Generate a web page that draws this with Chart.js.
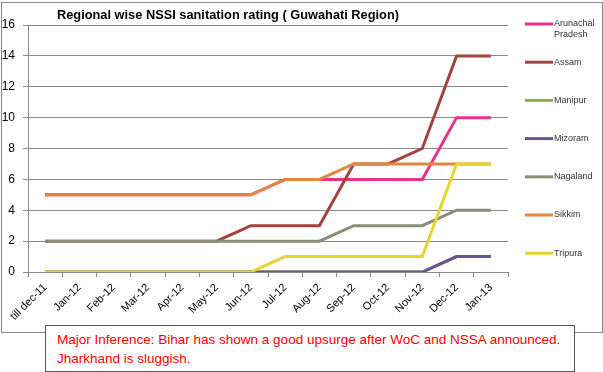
<!DOCTYPE html>
<html>
<head>
<meta charset="utf-8">
<script src="https://cdn.jsdelivr.net/npm/chart.js@4/dist/chart.umd.min.js"></script>
<style>
  body { margin: 0; background: #fff; }
  #wrap { position: relative; width: 603px; height: 372px; }
  #frame { position: absolute; left: 1px; top: 2px; width: 600px; height: 329px; border: 1px solid #8a8a8a; }
  canvas { position: absolute; left: 0; top: 0; }
  #note {
    position: absolute; left: 45px; top: 325px; width: 517px; height: 41px;
    border: 1px solid #555; background: #fff; color: #f00;
    font: 13.5px "Liberation Sans", Arial, sans-serif; line-height: 19px;
    padding: 4px 0 0 11px;
  }
</style>
</head>
<body>
<div id="wrap">
  <div id="frame"></div>
  <canvas id="myChart" width="603" height="372"></canvas>
  <div id="note">Major Inference: Bihar has shown a good upsurge after WoC and NSSA announced.<br>Jharkhand is sluggish.</div>
</div>
<script>
const months = ['till dec-11', 'Jan-12', 'Feb-12', 'Mar-12', 'Apr-12', 'May-12', 'Jun-12',
  'Jul-12', 'Aug-12', 'Sep-12', 'Oct-12', 'Nov-12', 'Dec-12', 'Jan-13'];

const arunachal = [5, 5, 5, 5, 5, 5, 5, 6, 6, 6, 6, 6, 10, 10];
const assam     = [2, 2, 2, 2, 2, 2, 3, 3, 3, 7, 7, 8, 14, 14];
const manipur   = [0, 0, 0, 0, 0, 0, 0, 0, 0, 0, 0, 0, 1, 1];
const mizoram   = [0, 0, 0, 0, 0, 0, 0, 0, 0, 0, 0, 0, 1, 1];
const nagaland  = [2, 2, 2, 2, 2, 2, 2, 2, 2, 3, 3, 3, 4, 4];
const sikkim    = [5, 5, 5, 5, 5, 5, 5, 6, 6, 7, 7, 7, 7, 7];
const tripura   = [0, 0, 0, 0, 0, 0, 0, 1, 1, 1, 1, 1, 7, 7];

const yTicks = [0, 2, 4, 6, 8, 10, 12, 14, 16];

const series = [
  { name: ['Arunachal', 'Pradesh'], values: arunachal, color: '#e8318c' },
  { name: ['Assam'], values: assam, color: '#a3423e' },
  { name: ['Manipur'], values: manipur, color: '#8db048' },
  { name: ['Mizoram'], values: mizoram, color: '#6b5292' },
  { name: ['Nagaland'], values: nagaland, color: '#8c8c79' },
  { name: ['Sikkim'], values: sikkim, color: '#e4873d' },
  { name: ['Tripura'], values: tripura, color: '#e8d52c' }
];

const font = '"Liberation Sans", Arial, sans-serif';

// title + legend drawn by hand, excel style
const extras = {
  id: 'extras',
  afterDraw(chart) {
    const ctx = chart.ctx;
    ctx.save();
    ctx.fillStyle = '#000';
    ctx.font = 'bold 12.8px ' + font;
    ctx.textBaseline = 'middle';
    ctx.textAlign = 'left';
    ctx.fillText('Regional wise NSSI sanitation rating ( Guwahati Region)', 57, 15);

    ctx.font = '9px ' + font;
    chart.data.datasets.forEach((ds, i) => {
      const y = 24 + i * 38.2;
      ctx.strokeStyle = ds.borderColor;
      ctx.lineWidth = 3;
      ctx.beginPath();
      ctx.moveTo(525, y);
      ctx.lineTo(553, y);
      ctx.stroke();
      ctx.fillStyle = '#333';
      ds.legendLines.forEach((t, j) => ctx.fillText(t, 554, y + j * 11));
    });
    ctx.restore();
  }
};

const ctx = document.getElementById('myChart').getContext('2d');
const myChart = new Chart(ctx, {
  type: 'line',
  data: {
    labels: months,
    datasets: series.map((s, i) => ({
      label: s.name.join(' '),
      legendLines: s.name,
      data: s.values,
      borderColor: s.color,
      backgroundColor: s.color,
      borderWidth: 3,
      pointRadius: 0,
      tension: 0,
      order: series.length - i
    }))
  },
  options: {
    responsive: false,
    animation: false,
    layout: { padding: { top: 25, right: 95, left: 0, bottom: 0 } },
    plugins: {
      legend: { display: false },
      title: { display: false },
      tooltip: { enabled: false }
    },
    scales: {
      x: {
        offset: true,
        afterFit: scale => { scale.height = 100; },
        grid: { drawOnChartArea: false, offset: true, tickLength: 5, color: '#8a8a8a' },
        border: { color: '#8a8a8a' },
        ticks: { autoSkip: false, maxRotation: 45, minRotation: 45, padding: 4, color: '#000', font: { family: font, size: 11 } }
      },
      y: {
        min: 0,
        max: 16,
        afterFit: scale => { scale.width = 28; },
        afterBuildTicks: scale => { scale.ticks = yTicks.map(v => ({ value: v })); },
        grid: { tickLength: 5, color: '#8a8a8a' },
        border: { color: '#8a8a8a' },
        ticks: { padding: 8, color: '#000', font: { family: font, size: 12 } }
      }
    }
  },
  plugins: [extras]
});
</script>
</body>
</html>
